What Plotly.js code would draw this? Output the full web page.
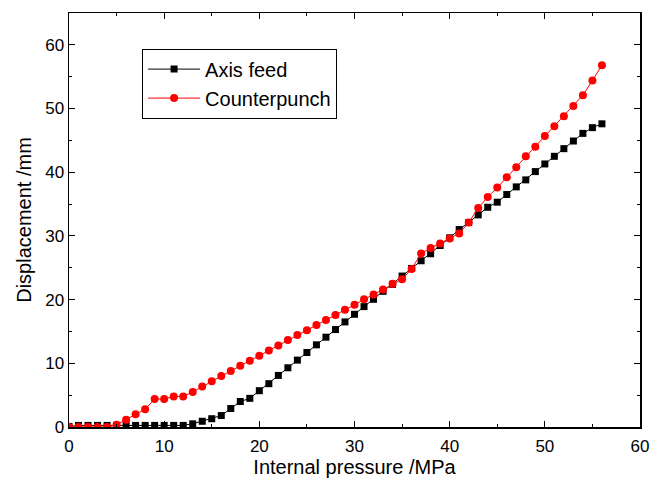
<!DOCTYPE html>
<html><head><meta charset="utf-8">
<script src="https://cdn.plot.ly/plotly-3.0.1.min.js"></script>
<style>html,body{margin:0;padding:0;background:#fff}#c{width:657px;height:484px}</style>
</head><body><div id="c"></div>
<script>
const pressure = [0,1,2,3,4,5,6,7,8,9,10,11,12,13,14,15,16,17,18,19,20,21,22,23,24,25,26,27,28,29,30,31,32,33,34,35,36,37,38,39,40,41,42,43,44,45,46,47,48,49,50,51,52,53,54,55,56];
const axisFeed = [0.1,0.25,0.25,0.25,0.25,0.25,0.25,0.25,0.25,0.25,0.25,0.25,0.25,0.5,0.9,1.3,1.8,2.9,4.0,4.5,5.7,6.8,8.1,9.3,10.5,11.7,12.9,14.1,15.3,16.5,17.7,18.9,20.05,21.3,22.4,23.7,24.9,26.1,27.2,28.5,29.7,31.0,32.1,33.3,34.5,35.3,36.5,37.7,38.8,40.1,41.3,42.5,43.7,44.9,46.1,47.0,47.6];
const counterpunch = [0,0,0,0,0,0.35,1.15,2.0,2.8,4.4,4.4,4.8,4.8,5.5,6.35,7.2,8.0,8.8,9.6,10.4,11.2,12.0,12.8,13.65,14.45,15.2,16.0,16.8,17.6,18.4,19.2,20.05,20.8,21.6,22.5,23.2,24.8,27.25,28.1,28.8,29.6,30.4,32.1,34.4,36.1,37.6,39.2,40.8,42.5,44.0,45.7,47.2,48.8,50.4,52.1,54.4,56.8];
const xTicks = [0,10,20,30,40,50,60];
const yTicks = [0,10,20,30,40,50,60];

const font = {family: 'Liberation Sans, Arial, sans-serif', color: '#000'};
const traces = [
  {x: pressure, y: axisFeed, name: 'Axis feed', mode: 'lines+markers',
   line: {color: '#000', width: 1}, marker: {symbol: 'square', size: 7, color: '#000'}},
  {x: pressure, y: counterpunch, name: 'Counterpunch', mode: 'lines+markers',
   line: {color: '#ff0000', width: 1}, marker: {symbol: 'circle', size: 8, color: '#ff0000'}}
];
const axisCommon = {
  showgrid: false, zeroline: false, showline: true, linecolor: '#000', linewidth: 1.5,
  mirror: 'allticks', ticks: 'inside', ticklen: 6, tickwidth: 1, tickcolor: '#000',
  tickfont: Object.assign({size: 17}, font),
  minor: {ticks: 'inside', ticklen: 3, tickwidth: 1, tickcolor: '#000', dtick: 5}
};
const layout = {
  width: 657, height: 484,
  margin: {l: 69, r: 17, t: 13, b: 57},
  paper_bgcolor: '#fff', plot_bgcolor: '#fff',
  font: font,
  showlegend: true,
  legend: {x: 0.128, y: 0.914, xanchor: 'left', yanchor: 'top', bordercolor: '#000', borderwidth: 1,
    bgcolor: '#fff', font: Object.assign({size: 20}, font), itemwidth: 52, tracegroupgap: 0},
  xaxis: Object.assign({}, axisCommon, {range: [0, 60], tickvals: xTicks, ticktext: xTicks.map(String),
    ticklabelstandoff: 3,
    title: {text: 'Internal pressure /MPa', font: Object.assign({size: 20}, font), standoff: 4}}),
  yaxis: Object.assign({}, axisCommon, {range: [0, 65], tickvals: yTicks, ticktext: yTicks.map(String),
    title: {text: 'Displacement /mm', font: Object.assign({size: 20}, font), standoff: 8}})
};
Plotly.newPlot('c', traces, layout, {displayModeBar: false, staticPlot: true});
</script></body></html>
